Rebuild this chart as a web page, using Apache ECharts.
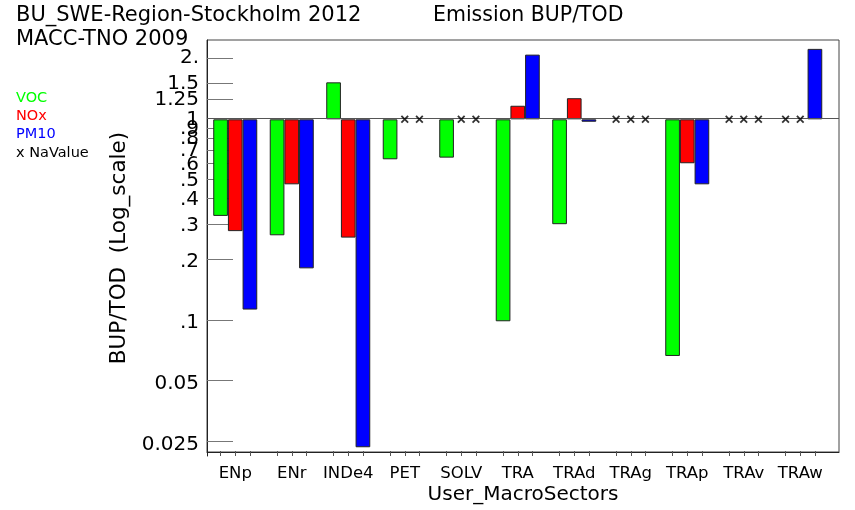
<!DOCTYPE html>
<html><head><meta charset="utf-8">
<script src="https://cdn.jsdelivr.net/npm/echarts@6/dist/echarts.min.js"></script>
<style>html,body{margin:0;padding:0;background:#fff}#c{width:855px;height:510px}</style>
</head><body><div id="c"></div>
<script>
// ---- data ----
const categories = ['ENp','ENr','INDe4','PET','SOLV','TRA','TRAd','TRAg','TRAp','TRAv','TRAw'];
const voc  = [0.335, 0.269, 1.52, 0.636, 0.648, 0.1016, 0.305, null, 0.0686, null, null];
const nox  = [0.282, 0.479, 0.262, null, null, 1.166, 1.27, null, 0.608, null, null];
const pm10 = [0.116, 0.185, 0.0244, null, null, 2.08, 0.973, null, 0.479, null, 2.22];
const tickValues = [2, 1.5, 1.25, 1, 0.9, 0.8, 0.7, 0.6, 0.5, 0.4, 0.3, 0.2, 0.1, 0.05, 0.025];
const tickLabels = ['2.', '1.5', '1.25', '1', '.9', '.8', '.7', '.6', '.5', '.4', '.3', '.2', '.1', '0.05', '0.025'];
const yMin = 0.0221, yMax = 2.455;
const noValueLevel = 1; // "x NaValue" marks are drawn on the ratio = 1 line

// ---- layout / style ----
const FONT = 'DejaVu Sans';
const PLOT_L = 207, PLOT_T = 40, PLOT_W = 632, PLOT_H = 416;
const CAT_W = 56.5, BW = 14.67;
const BARS_W = CAT_W * categories.length;
const Y_TICK = 13, X_TICK = 5;
const names = ['VOC', 'NOx', 'PM10'];
const colors = ['#00ff00', '#ff0000', '#0000ff'];
const values = [voc, nox, pm10];

function labelFor(v) {
  let best = 0, bd = Infinity;
  tickValues.forEach((t, i) => { const d = Math.abs(Math.log(t) - Math.log(v)); if (d < bd) { bd = d; best = i; } });
  return tickLabels[best];
}
// bottom tick marks at each bar centre (in category units)
const barTicks = [];
categories.forEach((c, k) => { [-1, 0, 1].forEach(o => barTicks.push(k + 0.5 + o * BW / CAT_W)); });

const series = [];
values.forEach((arr, si) => {
  series.push({
    name: names[si], type: 'bar', xAxisIndex: 0, yAxisIndex: 0,
    barWidth: BW, barGap: '0%',
    itemStyle: { color: colors[si], borderColor: '#222', borderWidth: 1 },
    data: arr.map(v => v == null ? null : v), z: 3
  });
});
values.forEach((arr, si) => {
  series.push({
    name: 'NaValue', type: 'scatter', xAxisIndex: 0, yAxisIndex: 0,
    symbol: 'path://M0,1.6L1.6,0L5,3.4L8.4,0L10,1.6L6.6,5L10,8.4L8.4,10L5,6.6L1.6,10L0,8.4L3.4,5Z',
    symbolSize: 8, symbolOffset: [(si - 1) * BW, 0],
    itemStyle: { color: '#000' }, z: 5,
    data: arr.map((v, i) => v == null ? [categories[i], noValueLevel] : null).filter(d => d)
  });
});
series.push({
  type: 'line', xAxisIndex: 2, yAxisIndex: 1, data: [], silent: true,
  markLine: { silent: true, symbol: 'none', label: { show: false },
    lineStyle: { color: '#555', width: 1, type: 'solid' }, data: [{ yAxis: noValueLevel }] },
  z: 2
});

function ttl(text, left, top, size, color) {
  return { text, left, top, padding: 0, textStyle: { fontFamily: FONT, fontWeight: 'normal', fontSize: size, color } };
}
const tickStyle = { color: '#777' };

const option = {
  animation: false,
  backgroundColor: '#fff',
  title: [
    ttl('BU_SWE-Region-Stockholm 2012', 16, 5, 21, '#000'),
    ttl('Emission BUP/TOD', 433, 5, 20.5, '#000'),
    ttl('MACC-TNO 2009', 16, 29, 21, '#000'),
    ttl('VOC', 16, 91, 14.5, '#00ff00'),
    ttl('NOx', 16, 109, 14.5, '#ff0000'),
    ttl('PM10', 16, 127, 14.5, '#0000ff'),
    ttl('x NaValue', 16, 145.5, 14.5, '#000')
  ],
  grid: [
    { left: PLOT_L, top: PLOT_T, width: BARS_W, height: PLOT_H, containLabel: false },
    { left: PLOT_L, top: PLOT_T, width: PLOT_W, height: PLOT_H, show: true, borderColor: '#444', borderWidth: 1, containLabel: false }
  ],
  xAxis: [
    { type: 'category', gridIndex: 0, data: categories, boundaryGap: true,
      axisLine: { show: false }, axisTick: { show: false }, splitLine: { show: false },
      axisLabel: { fontFamily: FONT, fontSize: 16.5, color: '#000', margin: 9, interval: 0 } },
    // short tick marks under every bar, drawn upward into the plot
    { type: 'value', gridIndex: 0, min: 0, max: categories.length, position: 'bottom', offset: -X_TICK,
      axisLine: { show: false }, splitLine: { show: false }, axisLabel: { show: false },
      axisTick: { show: true, inside: false, length: X_TICK, lineStyle: { color: '#555' }, customValues: barTicks } },
    { type: 'value', gridIndex: 1, min: 0, max: 1, position: 'bottom',
      axisLine: { show: true, lineStyle: { color: '#222' } }, axisTick: { show: false }, axisLabel: { show: false }, splitLine: { show: false },
      name: 'User_MacroSectors', nameLocation: 'middle', nameGap: 33,
      nameTextStyle: { fontFamily: FONT, fontSize: 20, color: '#000' } }
  ],
  yAxis: [
    { type: 'log', gridIndex: 0, min: yMin, max: yMax, logBase: 10, position: 'left',
      axisLine: { show: true, lineStyle: { color: '#222' } },
      axisTick: { show: false }, minorTick: { show: false }, splitLine: { show: false },
      axisLabel: { customValues: tickValues, formatter: v => labelFor(v), fontFamily: FONT, fontSize: 20, color: '#000', margin: 8 },
      name: 'BUP/TOD  (Log_scale)', nameLocation: 'middle', nameGap: 77, nameRotate: 90,
      nameTextStyle: { fontFamily: FONT, fontSize: 21.5, color: '#000' } },
    { type: 'log', gridIndex: 1, min: yMin, max: yMax, logBase: 10, position: 'right', offset: -Y_TICK,
      axisLine: { show: false },
      axisTick: { show: true, inside: false, length: Y_TICK, lineStyle: tickStyle, customValues: tickValues },
      minorTick: { show: false }, splitLine: { show: false }, axisLabel: { show: false } },
    { type: 'log', gridIndex: 1, min: yMin, max: yMax, logBase: 10, position: 'left', offset: -Y_TICK,
      axisLine: { show: false },
      axisTick: { show: true, inside: false, length: Y_TICK, lineStyle: tickStyle, customValues: tickValues },
      minorTick: { show: false }, splitLine: { show: false }, axisLabel: { show: false } }
  ],
  series
};
const chart = echarts.init(document.getElementById('c'), null, { renderer: 'canvas' });
chart.setOption(option);
</script>
</body></html>
